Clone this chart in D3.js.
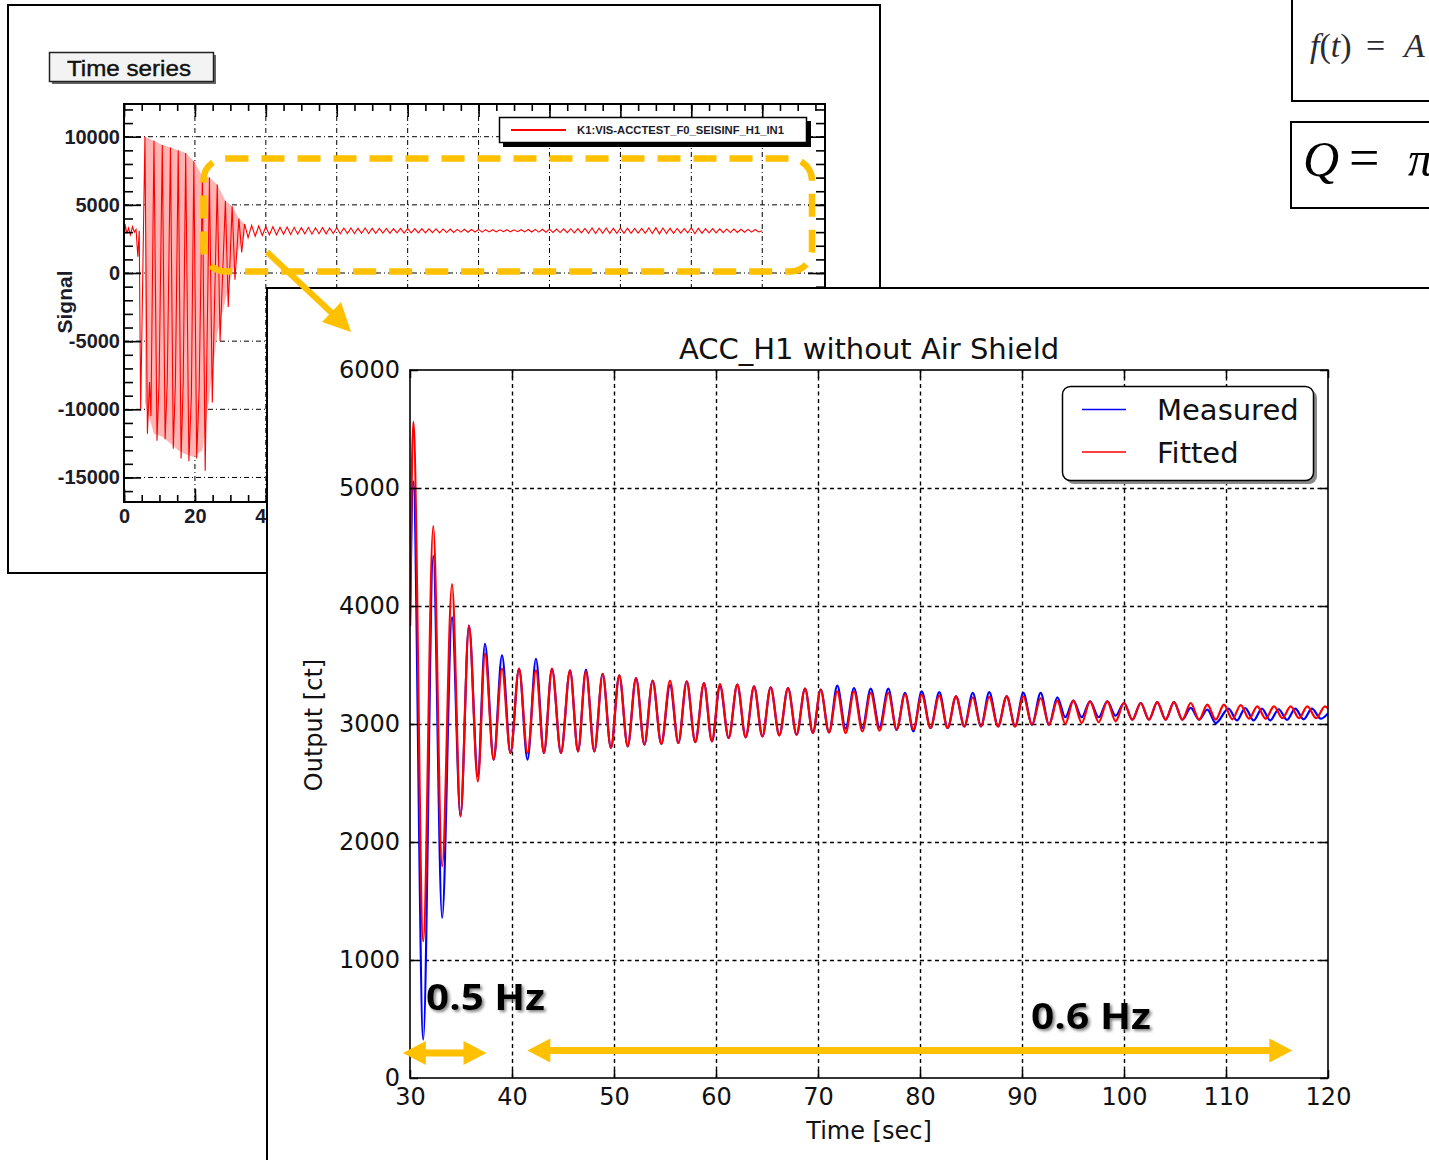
<!DOCTYPE html>
<html>
<head>
<meta charset="utf-8">
<script src="https://cdn.jsdelivr.net/npm/d3@7"></script>
<style>
  body { margin: 0; background: #fff; }
  svg { display: block; }
</style>
</head>
<body>
<div id="chart"></div>
<script>
// ---------------- data: zoomed plot (extrema) ----------------
const seriesNames = ["Measured", "Fitted"];
const seriesColors = ["#0000ff", "#ff0000"];

// [time (s), output (ct)] at each turning point of the fitted curve
const fitted = [
  [30.00,3830],[30.32,5561],[31.30,1158],[32.28,4677],[33.15,1794],[34.12,4185],[34.95,2218],[35.78,3834],
  [36.65,2514],[37.35,3596],[38.20,2698],[39.02,3469],[39.85,2754],[40.69,3469],[41.52,2754],[42.35,3455],
  [43.13,2754],[43.92,3469],[44.80,2754],[45.69,3455],[46.47,2768],[47.25,3446],[48.07,2768],[48.89,3424],
  [49.70,2797],[50.52,3412],[51.34,2811],[52.16,3390],[52.98,2825],[53.79,3367],[54.64,2831],[55.49,3367],
  [56.31,2839],[57.13,3362],[57.97,2847],[58.82,3347],[59.60,2853],[60.39,3339],[61.24,2881],[62.09,3333],
  [62.91,2887],[63.73,3319],[64.55,2895],[65.36,3311],[66.21,2904],[67.06,3305],[67.90,2909],[68.73,3299],
  [69.50,2924],[70.26,3291],[71.08,2929],[71.89,3277],[72.71,2924],[73.53,3277],[74.35,2938],[75.17,3263],
  [76.03,2943],[76.89,3263],[77.71,2955],[78.53,3250],[79.35,2955],[80.17,3248],[81.03,2966],[81.89,3240],
  [82.71,2966],[83.53,3234],[84.35,2980],[85.17,3226],[85.98,2980],[86.79,3230],[87.65,2980],[88.50,3234],
  [89.32,2980],[90.13,3234],[90.98,2994],[91.83,3220],[92.65,2994],[93.46,3198],[94.25,3000],[95.03,3198],
  [95.85,3008],[96.67,3192],[97.52,3015],[98.36,3192],[99.18,3023],[100.00,3178],[100.82,3037],[101.64,3178],
  [102.45,3037],[103.26,3185],[104.08,3037],[104.90,3185],[105.72,3037],[106.54,3178],[107.36,3037],[108.17,3164],
  [108.99,3037],[109.80,3164],[110.62,3040],[111.44,3160],[112.26,3045],[113.07,3150],[113.89,3045],[114.71,3150],
  [115.53,3050],[116.34,3150],[117.16,3050],[117.97,3150],[118.84,3050],[119.71,3150],[120.00,3130]
];

// [time (s), output (ct)] at each turning point of the measured signal
const measured = [
  [30.00,3830],[30.32,5056],[31.30,325],[32.28,4424],[33.15,1356],[34.12,3905],[34.95,2218],[35.78,3834],
  [36.65,2557],[37.35,3680],[38.20,2698],[39.02,3581],[39.85,2754],[40.69,3469],[41.52,2698],[42.35,3553],
  [43.13,2754],[43.92,3469],[44.80,2754],[45.69,3455],[46.47,2768],[47.25,3460],[48.07,2768],[48.89,3424],
  [49.70,2797],[50.52,3412],[51.34,2811],[52.16,3390],[52.98,2825],[53.79,3367],[54.64,2831],[55.49,3330],
  [56.31,2839],[57.13,3362],[57.97,2847],[58.82,3347],[59.60,2853],[60.39,3320],[61.24,2881],[62.09,3333],
  [62.91,2887],[63.73,3319],[64.55,2895],[65.36,3311],[66.21,2904],[67.06,3305],[67.90,2909],[68.73,3299],
  [69.50,2924],[70.26,3291],[71.08,2929],[71.89,3325],[72.71,2960],[73.53,3305],[74.35,2966],[75.17,3299],
  [76.03,2972],[76.89,3299],[77.71,2950],[78.53,3263],[79.35,2938],[80.17,3277],[81.03,2966],[81.89,3270],
  [82.71,2966],[83.53,3234],[84.35,2980],[85.17,3263],[85.98,2980],[86.79,3270],[87.65,2980],[88.50,3234],
  [89.32,2980],[90.13,3263],[90.98,2994],[91.83,3263],[92.65,2994],[93.46,3226],[94.25,3057],[95.03,3198],
  [95.85,3057],[96.67,3192],[97.52,3057],[98.36,3192],[99.18,3070],[100.00,3178],[100.82,3037],[101.64,3178],
  [102.45,3037],[103.26,3185],[104.08,3037],[104.90,3185],[105.72,3037],[106.54,3136],[107.36,3037],[108.17,3121],
  [108.99,3008],[110.25,3130],[111.07,3030],[111.89,3135],[112.71,3030],[113.52,3130],[114.34,3030],[115.16,3125],
  [115.98,3035],[116.79,3130],[117.61,3040],[118.42,3130],[119.29,3045],[120.00,3090]
];

const xTicksMain = [30, 40, 50, 60, 70, 80, 90, 100, 110, 120];
const yTicksMain = [0, 1000, 2000, 3000, 4000, 5000, 6000];

// ---------------- data: "Time series" overview panel ----------------
const rawChannel = "K1:VIS-ACCTEST_F0_SEISINF_H1_IN1";
// onset and big swing, [time (s), signal]
const rawHead = [
  [0,2000],[0.3,3600],[0.8,2900],[1.3,3300],[1.8,2800],[2.4,3400],[2.9,3000],[3.4,3200],[3.9,1200],[4.3,3100],
  [4.7,-10100],[5.9,10000],[6.6,-11800],[7.2,-8000],[7.6,-10500],[8.45,9700],[9.3,-12300],[9.9,-8000],
  [10.8,9400],[11.6,-12200],[12.2,-8000],[13.1,9200],[13.9,-12900],[14.5,-8000],[15.3,9000],[16.1,-13600],
  [16.7,-8000],[17.4,8800],[18.3,-13800],[19.0,-9000],[19.7,8200],[20.5,-13600],[21.2,-8500],[22.1,7100],
  [22.9,-14500],[24.1,7000],[24.9,-9500],[26.3,6500],[27.1,-5000],[28.6,5300],[29.4,-2500],[30.5,4900],
  [31.3,-500],[32.4,4000],[33.2,1500]
];
// settled ringing, one sample per second from 34 s
const rawTailStart = 34;
const rawTail = [
  3600,2600,3500,2700,3450,2750,3400,2800,3400,2800,
  3350,2850,3380,2820,3350,2850,3330,2870,3350,2850,
  3320,2880,3330,2870,3300,2900,3320,2880,3300,2900,
  3300,2900,3280,2920,3300,2900,3280,2920,3270,2930,
  3280,2920,3260,2940,3270,2930,3250,2950,3260,2940,
  3250,2950,3240,2960,3250,2950,3230,2970,3220,2980,
  3200,3000,3210,2990,3190,3010,3200,3000,3180,3020,
  3180,3020,3170,3030,3180,3020,3170,3030,3180,3020,
  3190,3010,3200,3000,3210,2990,3220,2980,3230,2970,
  3240,2960,3250,2950,3260,2940,3280,2920,3300,2900,
  3290,2910,3300,2900,3280,2920,3290,2910,3280,2920,
  3270,2930,3280,2920,3300,2900,3330,2870,3300,2900,
  3280,2920,3270,2930,3260,2940,3320,2880,3280,2920,
  3260,2940,3250,2950,3240,2960,3230,2970,3220,2980,
  3210,2990,3200,3000,3190,3010,3100
];
// upper/lower envelope of the dense swing (the pink band)
const envT  = [5.9, 8.45, 10.8, 13.1, 15.3, 17.4, 19.7, 22.1, 24.1, 26.3, 28.6, 30.5, 32.4, 34];
const envHi = [10000, 9700, 9400, 9200, 9000, 8800, 8200, 7100, 7000, 6500, 5300, 4900, 4000, 3600];
const envLo = [-9500, -11800, -12000, -12500, -13000, -13300, -13500, -13000, -9000, -4500, -2000, 0, 1800, 2700];

const rawXTicks = [0, 20, 40, 60, 80, 100, 120, 140, 160, 180];
const rawYTicks = [-15000, -10000, -5000, 0, 5000, 10000];

// ---------------- svg ----------------
const W = 1429, H = 1160;
const svg = d3.select("#chart").append("svg")
    .attr("width", W)
    .attr("height", H);

const defs = svg.append("defs");
defs.append("filter").attr("id", "txtShadow")
    .attr("x", "-10%").attr("y", "-20%").attr("width", "130%").attr("height", "160%")
  .append("feDropShadow")
    .attr("dx", 2).attr("dy", 2).attr("stdDeviation", 1.6)
    .attr("flood-color", "#666").attr("flood-opacity", 0.8);

const rootFont = "'Liberation Sans', Arial, sans-serif";
const mplFont = "'DejaVu Sans', sans-serif";
const serifFont = "'Liberation Serif', 'DejaVu Serif', serif";
const yellow = "#ffc000";
const plain = d => String(d);   // no thousands separators, ascii minus

/******************************** Overview panel ********************************/
const ov = svg.append("g");
ov.append("rect")
    .attr("x", 8).attr("y", 5).attr("width", 872).attr("height", 568)
    .attr("fill", "#fff").attr("stroke", "#000").attr("stroke-width", 2);

// "Time series" title button
ov.append("rect").attr("x", 52).attr("y", 55).attr("width", 164).attr("height", 29).attr("fill", "#666");
ov.append("rect").attr("x", 49.5).attr("y", 52.5).attr("width", 164).attr("height", 29)
    .attr("fill", "#f3f3f3").attr("stroke", "#222").attr("stroke-width", 1.5);
ov.append("text")
    .attr("x", 67).attr("y", 76)
    .attr("font-family", rootFont).attr("font-size", 22).attr("fill", "#111")
    .attr("stroke", "#111").attr("stroke-width", 0.4)
    .attr("textLength", 124).attr("lengthAdjust", "spacingAndGlyphs")
    .text("Time series");

const ovL = 124, ovR = 825, ovT = 104, ovB = 502;
const xS = d3.scaleLinear().domain([0, 197.7]).range([ovL, ovR]);
const yS = d3.scaleLinear().domain([-16800, 12400]).range([ovB, ovT]);

// grid
const ovGrid = ov.append("g")
    .attr("stroke", "#000").attr("stroke-width", 1).attr("stroke-dasharray", "5,3,1,3");
ovGrid.selectAll(".gx").data(rawXTicks.slice(1)).join("line")
    .attr("x1", d => xS(d)).attr("x2", d => xS(d))
    .attr("y1", ovT).attr("y2", ovB);
ovGrid.selectAll(".gy").data(rawYTicks).join("line")
    .attr("x1", ovL).attr("x2", ovR)
    .attr("y1", d => yS(d)).attr("y2", d => yS(d));

// signal
const rawTailPts = rawTail.map((v, i) => [rawTailStart + i, v]);
const envArea = d3.area()
    .x((d, i) => xS(envT[i]))
    .y0((d, i) => yS(envLo[i]))
    .y1((d, i) => yS(envHi[i]));
ov.append("path")
    .attr("d", envArea(envT))
    .attr("fill", "#ffb4b4");

const rawLine = d3.line()
    .x(d => xS(d[0]))
    .y(d => yS(d[1]));
ov.append("path")
    .attr("d", rawLine(rawHead.concat(rawTailPts)))
    .attr("fill", "none")
    .attr("stroke", "#ff0000")
    .attr("stroke-width", 1.1);

// frame and ROOT-style ticks
ov.append("rect")
    .attr("x", ovL).attr("y", ovT).attr("width", ovR - ovL).attr("height", ovB - ovT)
    .attr("fill", "none").attr("stroke", "#000").attr("stroke-width", 2);

const xMinor = d3.range(0, 198, 5);
const yMinor = d3.range(-16000, 12500, 1000);

function ovTicks(axis, transform, vals, size) {
    ov.append("g")
        .attr("transform", transform)
        .call(axis.tickValues(vals).tickSizeInner(-size).tickSizeOuter(0).tickFormat(""))
        .call(g => g.select(".domain").remove())
        .call(g => g.selectAll("line").attr("stroke", "#000").attr("stroke-width", 1.6));
}
ovTicks(d3.axisBottom(xS), `translate(0,${ovB})`, xMinor, 7);
ovTicks(d3.axisTop(xS), `translate(0,${ovT})`, xMinor, 7);
ovTicks(d3.axisBottom(xS), `translate(0,${ovB})`, rawXTicks, 13);
ovTicks(d3.axisTop(xS), `translate(0,${ovT})`, rawXTicks, 13);
ovTicks(d3.axisLeft(yS), `translate(${ovL},0)`, yMinor, 9);
ovTicks(d3.axisRight(yS), `translate(${ovR},0)`, yMinor, 9);
ovTicks(d3.axisLeft(yS), `translate(${ovL},0)`, rawYTicks, 17);
ovTicks(d3.axisRight(yS), `translate(${ovR},0)`, rawYTicks, 17);

// tick labels
ov.append("g")
    .attr("transform", `translate(0,${ovB})`)
    .call(d3.axisBottom(xS).tickValues(rawXTicks).tickSize(0).tickPadding(7).tickFormat(plain))
    .call(g => g.select(".domain").remove())
    .call(g => g.selectAll("text")
        .attr("font-family", rootFont).attr("font-weight", "bold")
        .attr("font-size", 20).attr("fill", "#1c1c28"));
ov.append("g")
    .attr("transform", `translate(${ovL},0)`)
    .call(d3.axisLeft(yS).tickValues(rawYTicks).tickSize(0).tickPadding(4).tickFormat(plain))
    .call(g => g.select(".domain").remove())
    .call(g => g.selectAll("text")
        .attr("font-family", rootFont).attr("font-weight", "bold")
        .attr("font-size", 20).attr("fill", "#1c1c28"));
ov.append("text")
    .attr("transform", "translate(72,302) rotate(-90)")
    .attr("text-anchor", "middle")
    .attr("font-family", rootFont).attr("font-weight", "bold")
    .attr("font-size", 21).attr("fill", "#1c1c28")
    .text("Signal");

// channel legend
ov.append("rect").attr("x", 503).attr("y", 121).attr("width", 308).attr("height", 26).attr("fill", "#000");
ov.append("rect").attr("x", 499.5).attr("y", 117.5).attr("width", 307).attr("height", 25)
    .attr("fill", "#fff").attr("stroke", "#000").attr("stroke-width", 1.5);
ov.append("line").attr("x1", 511).attr("x2", 566).attr("y1", 130).attr("y2", 130)
    .attr("stroke", "#ff0000").attr("stroke-width", 2);
ov.append("text")
    .attr("x", 577).attr("y", 134)
    .attr("font-family", rootFont).attr("font-weight", "bold").attr("font-size", 10)
    .attr("fill", "#1c1c28")
    .attr("textLength", 207).attr("lengthAdjust", "spacingAndGlyphs")
    .text(rawChannel);

// yellow highlight box
ov.append("rect")
    .attr("x", 203.5).attr("y", 158.5).attr("width", 608.5).attr("height", 113)
    .attr("rx", 22).attr("ry", 22)
    .attr("fill", "none").attr("stroke", yellow).attr("stroke-width", 6.5)
    .attr("stroke-dasharray", "23,13");

/******************************** Equation boxes ********************************/
const eq = svg.append("g");
eq.append("rect").attr("x", 1292).attr("y", -5).attr("width", 200).attr("height", 106)
    .attr("fill", "#fff").attr("stroke", "#000").attr("stroke-width", 2);
const eq1 = eq.append("text").attr("y", 57)
    .attr("font-family", serifFont)
    .attr("font-size", 34).attr("fill", "#2b2b33");
eq1.append("tspan").attr("x", 1310).attr("font-style", "italic").text("f");
eq1.append("tspan").text("(");
eq1.append("tspan").attr("font-style", "italic").text("t");
eq1.append("tspan").text(")");
eq1.append("tspan").attr("x", 1366).text("=");
eq1.append("tspan").attr("x", 1404).attr("font-style", "italic").text("A");

eq.append("rect").attr("x", 1291).attr("y", 122).attr("width", 200).attr("height", 86)
    .attr("fill", "#fff").attr("stroke", "#000").attr("stroke-width", 2);
const eq2 = eq.append("text").attr("y", 176)
    .attr("font-family", serifFont).attr("fill", "#000");
eq2.append("tspan").attr("x", 1303).attr("font-size", 50).attr("font-style", "italic").text("Q");
eq2.append("tspan").attr("x", 1349).attr("font-size", 54).text("=");
eq2.append("tspan").attr("x", 1408).attr("font-size", 50).attr("font-style", "italic").text("\u03c0");

/******************************** Zoomed panel ********************************/
svg.append("rect")
    .attr("x", 267).attr("y", 288).attr("width", 1200).attr("height", 900)
    .attr("fill", "#fff").attr("stroke", "#000").attr("stroke-width", 2);

const plotL = 410, plotR = 1328, plotT = 370, plotB = 1078;
const xM = d3.scaleLinear().domain([30, 120]).range([plotL, plotR]);
const yM = d3.scaleLinear().domain([0, 6000]).range([plotB, plotT]);

const gM = svg.append("g");

// dotted grid
gM.append("g")
    .attr("transform", `translate(0,${plotB})`)
    .call(d3.axisBottom(xM).tickValues(xTicksMain.slice(1, -1)).tickSize(-(plotB - plotT)).tickFormat(""))
    .call(g => g.select(".domain").remove())
    .call(g => g.selectAll("line").attr("stroke", "#000").attr("stroke-width", 1.4).attr("stroke-dasharray", "4,3.5"));
gM.append("g")
    .attr("transform", `translate(${plotL},0)`)
    .call(d3.axisLeft(yM).tickValues(yTicksMain.slice(1, -1)).tickSize(-(plotR - plotL)).tickFormat(""))
    .call(g => g.select(".domain").remove())
    .call(g => g.selectAll("line").attr("stroke", "#000").attr("stroke-width", 1.4).attr("stroke-dasharray", "4,3.5"));

// signals
defs.append("clipPath").attr("id", "plotClip")
  .append("rect").attr("x", plotL).attr("y", plotT).attr("width", plotR - plotL).attr("height", plotB - plotT);

const line = d3.line()
    .curve(d3.curveMonotoneX)
    .x(d => xM(d[0]))
    .y(d => yM(d[1]));

gM.append("g").attr("clip-path", "url(#plotClip)")
    .selectAll("path")
    .data([measured, fitted])
    .join("path")
    .attr("d", d => line(d))
    .attr("fill", "none")
    .attr("stroke", (d, i) => seriesColors[i])
    .attr("stroke-width", 2.2)
    .attr("stroke-linejoin", "round");

// frame + inward ticks
gM.append("rect")
    .attr("x", plotL).attr("y", plotT).attr("width", plotR - plotL).attr("height", plotB - plotT)
    .attr("fill", "none").attr("stroke", "#000").attr("stroke-width", 1.6);

function mTicks(axis, transform, vals) {
    gM.append("g")
        .attr("transform", transform)
        .call(axis.tickValues(vals).tickSizeInner(-8).tickSizeOuter(0).tickFormat(""))
        .call(g => g.select(".domain").remove())
        .call(g => g.selectAll("line").attr("stroke", "#000").attr("stroke-width", 1.5));
}
mTicks(d3.axisBottom(xM), `translate(0,${plotB})`, xTicksMain);
mTicks(d3.axisTop(xM), `translate(0,${plotT})`, xTicksMain);
mTicks(d3.axisLeft(yM), `translate(${plotL},0)`, yTicksMain);
mTicks(d3.axisRight(yM), `translate(${plotR},0)`, yTicksMain);

gM.append("g")
    .attr("transform", `translate(0,${plotB})`)
    .call(d3.axisBottom(xM).tickValues(xTicksMain).tickSize(0).tickPadding(10).tickFormat(plain))
    .call(g => g.select(".domain").remove())
    .call(g => g.selectAll("text").attr("font-family", mplFont).attr("font-size", 24).attr("fill", "#111"));
gM.append("g")
    .attr("transform", `translate(${plotL},0)`)
    .call(d3.axisLeft(yM).tickValues(yTicksMain).tickSize(0).tickPadding(10).tickFormat(plain))
    .call(g => g.select(".domain").remove())
    .call(g => g.selectAll("text").attr("font-family", mplFont).attr("font-size", 24).attr("fill", "#111"));

gM.append("text")
    .attr("x", (plotL + plotR) / 2).attr("y", 359)
    .attr("text-anchor", "middle")
    .attr("font-family", mplFont).attr("font-size", 29).attr("fill", "#111")
    .text("ACC_H1 without Air Shield");
gM.append("text")
    .attr("x", (plotL + plotR) / 2).attr("y", 1139)
    .attr("text-anchor", "middle")
    .attr("font-family", mplFont).attr("font-size", 24).attr("fill", "#111")
    .text("Time [sec]");
gM.append("text")
    .attr("transform", "translate(322,725) rotate(-90)")
    .attr("text-anchor", "middle")
    .attr("font-family", mplFont).attr("font-size", 24).attr("fill", "#111")
    .text("Output [ct]");

// legend
const leg = gM.append("g");
leg.append("rect").attr("x", 1066).attr("y", 390).attr("width", 251).attr("height", 94)
    .attr("rx", 8).attr("fill", "#8a8a8a");
leg.append("rect").attr("x", 1062.5).attr("y", 386.5).attr("width", 251).attr("height", 94)
    .attr("rx", 8).attr("fill", "#fff").attr("stroke", "#000").attr("stroke-width", 1.5);
const legRows = leg.selectAll(".row").data(seriesNames).join("g")
    .attr("transform", (d, i) => `translate(0,${i * 42.5})`);
legRows.append("line")
    .attr("x1", 1082).attr("x2", 1126).attr("y1", 409.5).attr("y2", 409.5)
    .attr("stroke", (d, i) => seriesColors[i]).attr("stroke-width", 1.6);
legRows.append("text")
    .attr("x", 1157).attr("y", 420)
    .attr("font-family", mplFont).attr("font-size", 29).attr("fill", "#111")
    .text(d => d);

/******************************** Annotations ********************************/
function doubleArrow(g, x1, x2, y) {
    const hl = 23, hh = 12, st = 3.5;
    const pts = [
        [x1, y], [x1 + hl, y - hh], [x1 + hl, y - st], [x2 - hl, y - st], [x2 - hl, y - hh],
        [x2, y], [x2 - hl, y + hh], [x2 - hl, y + st], [x1 + hl, y + st], [x1 + hl, y + hh]
    ];
    g.append("polygon").attr("points", pts.map(p => p.join(",")).join(" ")).attr("fill", yellow);
}
const ann = svg.append("g");
doubleArrow(ann, xM(29.3), xM(37.5), 1053);
doubleArrow(ann, xM(41.5), xM(116.5), 1050.5);

ann.append("text")
    .attr("x", 426).attr("y", 1010)
    .attr("font-family", "'Open Sans', 'Noto Sans', sans-serif").attr("font-weight", "bold")
    .attr("font-size", 36).attr("fill", "#000")
    .attr("textLength", 119).attr("lengthAdjust", "spacingAndGlyphs")
    .attr("filter", "url(#txtShadow)")
    .text("0.5 Hz");
ann.append("text")
    .attr("x", 1031).attr("y", 1029)
    .attr("font-family", "'Open Sans', 'Noto Sans', sans-serif").attr("font-weight", "bold")
    .attr("font-size", 36).attr("fill", "#000")
    .attr("textLength", 120).attr("lengthAdjust", "spacingAndGlyphs")
    .attr("filter", "url(#txtShadow)")
    .text("0.6 Hz");

// zoom arrow from the highlight box into the detail panel
ann.append("line")
    .attr("x1", 267).attr("y1", 252).attr("x2", 334).attr("y2", 315)
    .attr("stroke", yellow).attr("stroke-width", 6);
ann.append("polygon")
    .attr("points", "351,332 322,322 341,302")
    .attr("fill", yellow);
</script>
</body>
</html>
